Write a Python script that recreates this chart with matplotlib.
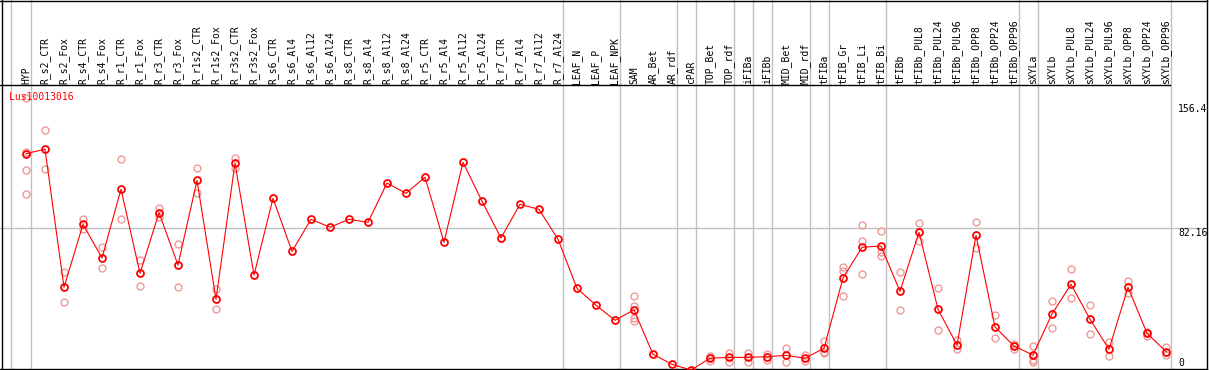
import matplotlib
matplotlib.use("Agg")
import matplotlib.pyplot as plt
from matplotlib.lines import Line2D

# sample names, in display order
samples = [
    "HYP", "R_s2_CTR", "R_s2_Fox", "R_s4_CTR", "R_s4_Fox", "R_r1_CTR", "R_r1_Fox",
    "R_r3_CTR", "R_r3_Fox", "R_r1s2_CTR", "R_r1s2_Fox", "R_r3s2_CTR", "R_r3s2_Fox",
    "R_s6_CTR", "R_s6_Al4", "R_s6_Al12", "R_s6_Al24", "R_s8_CTR", "R_s8_Al4",
    "R_s8_Al12", "R_s8_Al24", "R_r5_CTR", "R_r5_Al4", "R_r5_Al12", "R_r5_Al24",
    "R_r7_CTR", "R_r7_Al4", "R_r7_Al12", "R_r7_Al24", "LEAF_N", "LEAF_P", "LEAF_NPK",
    "SAM", "AR_Bet", "AR_rdf", "cPAR", "TOP_Bet", "TOP_rdf", "iFIBa", "iFIBb",
    "MID_Bet", "MID_rdf", "tFIBa", "tFIB_Gr", "tFIB_Li", "tFIB_Bi", "tFIBb",
    "tFIBb_PUL8", "tFIBb_PUL24", "tFIBb_PUL96", "tFIBb_OPP8", "tFIBb_OPP24",
    "tFIBb_OPP96", "sXYLa", "sXYLb", "sXYLb_PUL8", "sXYLb_PUL24", "sXYLb_PUL96",
    "sXYLb_OPP8", "sXYLb_OPP24", "sXYLb_OPP96",
]

# number of samples in each separated group
group_sizes = [1, 28, 3, 3, 1, 2, 1, 1, 2, 1, 3, 7, 1, 7]

# mean expression per sample
means = [
    126.4, 129.0, 47.2, 84.5, 64.6, 105.3, 55.5, 91.4, 60.4, 110.6, 40.1, 120.7, 54.5,
    99.9, 68.5, 87.5, 82.8, 87.5, 85.7, 109.0, 102.9, 112.4, 73.9, 121.3, 98.2,
    76.4, 96.4, 93.4, 75.7, 46.6, 36.6, 27.7,
    33.8, 7.5, 1.6, -1.8, 5.2, 5.7, 5.7, 6.1, 6.9, 5.2, 11.1,
    52.7, 70.9, 71.7, 44.8, 79.8, 34.2, 13.0, 78.0, 23.7, 12.4,
    7.1, 31.4, 49.0, 28.3, 10.5, 47.2, 20.0, 9.1,
]

# individual replicates (empty where only one sample)
replicates = [
    [159.4, 127.5, 116.5, 102.5], [140.2, 117.1], [56.1, 38.3], [87.9, 81.6],
    [70.9, 58.5], [123.0, 87.5], [63.4, 47.8], [94.2, 88.9], [72.7, 47.2],
    [117.7, 103.3], [46.2, 34.2], [124.0, 117.7],
    [], [], [], [], [], [], [], [], [], [], [], [], [], [], [], [], [], [], [], [],
    [42.1, 36.1, 29.0, 27.3], [], [], [],
    [6.5, 3.6], [8.3, 3.0], [8.3, 3.0], [7.5, 4.0], [11.1, 3.1], [7.1, 3.6],
    [15.6, 9.1, 8.1],
    [59.1, 57.0, 41.9], [83.9, 74.5, 54.9], [80.6, 68.3, 65.6],
    [56.1, 33.6], [85.3, 74.6], [46.6, 21.7], [16.0, 10.5], [86.1, 70.3],
    [30.8, 17.2], [13.6, 10.7],
    [12.6, 4.1, 3.0], [39.1, 22.9], [58.1, 40.7], [36.6, 19.5], [15.0, 6.7],
    [51.1, 43.7], [20.9, 18.5], [12.0, 7.3],
]

gene = "Lus10013016"
y_ticks = [156.4, 82.16, 0]

W, H = 1209, 370
fig = plt.figure(figsize=(W / 100, H / 100), dpi=100)
ax = fig.add_axes([0, 0, 1, 1])
ax.set_xlim(-26 / 19, (W - 26) / 19)
ax.set_ylim(-3 / 1.688, 367 / 1.688)
ax.axis("off")

mono = "DejaVu Sans Mono"
grey = "#c0c0c0"


def fx(x):
    return x / W


def fy(y):
    return 1 - y / H


# group separators
bounds = [-0.8]
pos = -1
for n in group_sizes:
    pos += n
    bounds.append(pos + 0.25)
for b in bounds:
    ax.axvline(b, color=grey, lw=1.0, zorder=1)
ax.axhline(y_ticks[1], xmin=0, xmax=fx(1207), color=grey, lw=1.0, zorder=1)

# frame
frame = [
    ([0, 1207], [0.5, 0.5]), ([1.5, 1.5], [0, 369]), ([0, 1207], [369, 369]),
    ([1206.5, 1206.5], [0, 369]), ([0, 1170], [85, 85]),
]
for xs, ys in frame:
    ax.add_line(Line2D([fx(x) for x in xs], [fy(y) for y in ys], transform=ax.transAxes,
                       color="black", lw=1.0, zorder=2, clip_on=False))

x = list(range(len(samples)))

for i, reps in enumerate(replicates):
    if reps:
        ax.plot([i] * len(reps), reps, "o", ms=5, mfc="none", mec="#f09898",
                mew=1.0, zorder=3)

ax.plot(x, means, "-", color="red", lw=0.8, zorder=4)
ax.plot(x, means, "o", ms=5, mfc="none", mec="red", mew=1.3, zorder=5)

# header labels
for i, name in enumerate(samples):
    ax.text(i, fy(83.5), name, transform=ax.get_xaxis_transform(), rotation=90,
            ha="center", va="bottom", fontsize=7, family=mono, color="black")

ax.text(fx(9), fy(97), gene, transform=ax.transAxes, ha="left", va="center",
        fontsize=7, family=mono, color="red", zorder=6)

for v, ytop in zip(y_ticks, [104.5, 228, 357.5]):
    lab = f"{v:g}"
    ax.text(fx(1178), fy(ytop), lab, transform=ax.transAxes, ha="left", va="top",
            fontsize=7, family=mono, color="black", zorder=6)

fig.savefig("out.png", dpi=100)
